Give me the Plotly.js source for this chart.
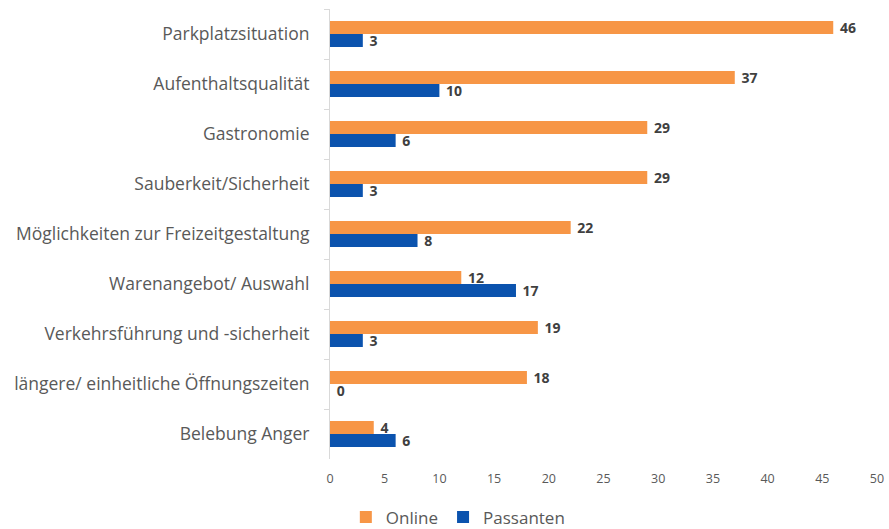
<!DOCTYPE html>
<html>
<head>
<meta charset="utf-8">
<script src="https://cdn.plot.ly/plotly-3.0.1.min.js"></script>
<style>html,body{margin:0;padding:0;background:#fff;}#chart{width:889px;height:529px;}</style>
</head>
<body>
<div id="chart"></div>
<script>
const categories = [
  "Parkplatzsituation",
  "Aufenthaltsqualität",
  "Gastronomie",
  "Sauberkeit/Sicherheit",
  "Möglichkeiten zur Freizeitgestaltung",
  "Warenangebot/ Auswahl",
  "Verkehrsführung und -sicherheit",
  "längere/ einheitliche Öffnungszeiten",
  "Belebung Anger"
];
const onlineValues = [46, 37, 29, 29, 22, 12, 19, 18, 4];
const passantenValues = [3, 10, 6, 3, 8, 17, 3, 0, 6];
const seriesNames = ["Online", "Passanten"];
const xTicks = [0, 5, 10, 15, 20, 25, 30, 35, 40, 45, 50];

const FONT = "Open Sans, Liberation Sans, sans-serif";
const labelFont = {family: FONT, size: 14, color: "#404040", weight: 700};
const pad = "\u00a0";

const traces = [
  {
    type: "bar", orientation: "h", name: seriesNames[0],
    y: categories, x: onlineValues,
    text: onlineValues.map(v => pad + v), textposition: "outside",
    textfont: labelFont, cliponaxis: false, constraintext: "none",
    marker: {color: "#F79646"}
  },
  {
    type: "bar", orientation: "h", name: seriesNames[1],
    y: categories, x: passantenValues,
    text: passantenValues.map(v => pad + v), textposition: "outside",
    textfont: labelFont, cliponaxis: false, constraintext: "none",
    marker: {color: "#0B53AE"}
  }
];

const layout = {
  width: 889, height: 529,
  margin: {l: 330, r: 12, t: 9, b: 70, autoexpand: false},
  paper_bgcolor: "#fff", plot_bgcolor: "#fff",
  barmode: "group", bargap: 0.48, bargroupgap: 0,
  font: {family: FONT, color: "#595959"},
  xaxis: {
    range: [0, 50], tickvals: xTicks, ticktext: xTicks.map(String),
    showgrid: false, zeroline: false, showline: false,
    tickfont: {size: 12.5, color: "#595959"}, ticks: "", ticklabelstandoff: 10
  },
  yaxis: {
    type: "category", autorange: "reversed",
    showline: true, linecolor: "#D9D9D9", linewidth: 1,
    ticks: "outside", tickson: "boundaries", ticklen: 5, tickcolor: "#D9D9D9",
    tickfont: {size: 17.5, color: "#595959"}, ticklabelstandoff: 16,
    showgrid: false, zeroline: false
  },
  showlegend: true,
  legend: {
    orientation: "h", xref: "container", x: 0.515, xanchor: "center",
    yref: "container", y: 0.022, yanchor: "middle",
    font: {size: 17, color: "#595959"}, traceorder: "normal",
    itemwidth: 30, tracegroupgap: 0
  }
};

Plotly.newPlot("chart", traces, layout, {displayModeBar: false, staticPlot: true});
</script>
</body>
</html>
